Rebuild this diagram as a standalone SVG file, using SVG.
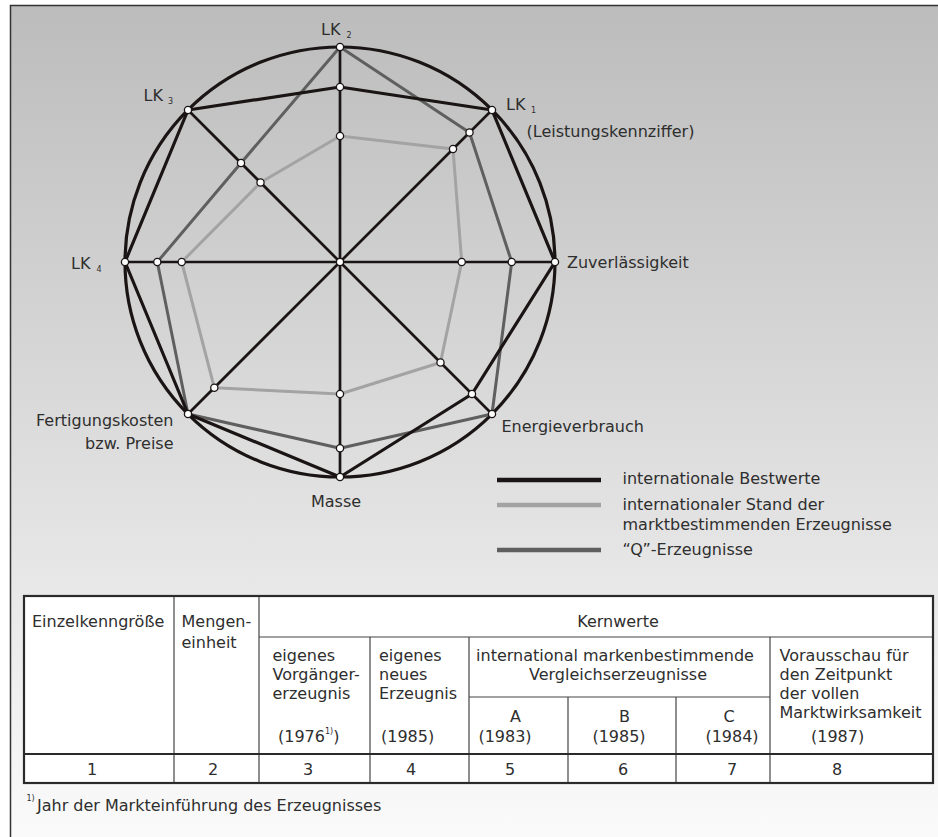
<svg xmlns="http://www.w3.org/2000/svg" width="938" height="837" viewBox="0 0 938 837">
<defs>
<linearGradient id="bg" x1="0" y1="0" x2="0" y2="1">
<stop offset="0" stop-color="#bcbcbc"/>
<stop offset="1" stop-color="#fbfbfb"/>
</linearGradient>
<style>
.ax{stroke:#1a1414;stroke-width:2.7;fill:none}
.bk{stroke:#1a1414;stroke-width:3.2;fill:none;stroke-linejoin:round}
.dg{stroke:#5f5f5f;stroke-width:3;fill:none;stroke-linejoin:round}
.lg{stroke:#a3a3a3;stroke-width:3;fill:none;stroke-linejoin:round}
.pt{fill:#fff;stroke:#1a1414;stroke-width:1.3}
text{font-family:"DejaVu Sans","Liberation Sans",sans-serif;font-size:16px;fill:#2e2e2e}
.sub{font-size:8px}
.sup{font-size:8px}
.tb{stroke:#2a2a2a;stroke-width:2.2;fill:none}
.tl{stroke:#444;stroke-width:1.2;fill:none}
.mid{text-anchor:middle}
</style>
</defs>
<rect x="0" y="0" width="938" height="837" fill="#ffffff"/>
<rect x="10.5" y="5.5" width="940" height="840" fill="url(#bg)" stroke="#333" stroke-width="1.5"/>

<g id="chart">
<circle cx="340" cy="262" r="215" class="bk"/>
<g id="spokes">
<line x1="340" y1="47" x2="340" y2="477" class="ax"/>
<line x1="125" y1="262" x2="555" y2="262" class="ax" stroke-width="3.2"/>
<line x1="188" y1="110" x2="492" y2="414" class="ax"/>
<line x1="492" y1="110" x2="188" y2="414" class="ax"/>
</g>
<polygon id="stand" class="lg" points="340,136 453,149 461.7,262 440.5,362.5 340,394 214.3,387.7 181.7,262 260.5,182.5"/>
<polygon id="q-erzeugnisse" class="dg" points="340,47 469.5,132.5 511.7,262 492,414 340,448.3 188,414 157.3,262 241,163"/>
<polygon id="bestwerte" class="bk" points="340,87 492,110 555,262 472,394 340,477 188,414 125,262 188,110"/>
<g id="points">
<circle class="pt" cx="340" cy="262" r="3.6"/>
<circle class="pt" cx="340" cy="47" r="3.6"/>
<circle class="pt" cx="340" cy="87" r="3.6"/>
<circle class="pt" cx="340" cy="136" r="3.6"/>
<circle class="pt" cx="492" cy="110" r="3.6"/>
<circle class="pt" cx="469.5" cy="132.5" r="3.6"/>
<circle class="pt" cx="453" cy="149" r="3.6"/>
<circle class="pt" cx="555" cy="262" r="3.6"/>
<circle class="pt" cx="511.7" cy="262" r="3.6"/>
<circle class="pt" cx="461.7" cy="262" r="3.6"/>
<circle class="pt" cx="492" cy="414" r="3.6"/>
<circle class="pt" cx="472" cy="394" r="3.6"/>
<circle class="pt" cx="440.5" cy="362.5" r="3.6"/>
<circle class="pt" cx="340" cy="477" r="3.6"/>
<circle class="pt" cx="340" cy="448.3" r="3.6"/>
<circle class="pt" cx="340" cy="394" r="3.6"/>
<circle class="pt" cx="188" cy="414" r="3.6"/>
<circle class="pt" cx="214.3" cy="387.7" r="3.6"/>
<circle class="pt" cx="125" cy="262" r="3.6"/>
<circle class="pt" cx="157.3" cy="262" r="3.6"/>
<circle class="pt" cx="181.7" cy="262" r="3.6"/>
<circle class="pt" cx="188" cy="110" r="3.6"/>
<circle class="pt" cx="241" cy="163" r="3.6"/>
<circle class="pt" cx="260.5" cy="182.5" r="3.6"/>
</g>
</g>

<g id="label-lk2"><text x="321" y="35" font-size="17">LK<tspan class="sub" x="346.5" y="38">2</tspan></text></g>
<g id="label-lk3"><text x="143.5" y="101" font-size="17">LK<tspan class="sub" x="168" y="104">3</tspan></text></g>
<g id="label-lk1"><text x="506" y="110" font-size="17">LK<tspan class="sub" x="531" y="113">1</tspan></text>
<text x="526.5" y="137">(Leistungskennziffer)</text></g>
<g id="label-lk4"><text x="71" y="269" font-size="17">LK<tspan class="sub" x="96.5" y="272">4</tspan></text></g>
<g id="label-zuv"><text x="567" y="268">Zuverlässigkeit</text></g>
<g id="label-energie"><text x="501.5" y="432">Energieverbrauch</text></g>
<g id="label-masse"><text x="336" y="506.5" class="mid">Masse</text></g>
<g id="label-fertigung"><text x="173.5" y="425.5" text-anchor="end">Fertigungskosten</text>
<text x="173.5" y="449" text-anchor="end">bzw. Preise</text></g>

<g id="legend">
<line x1="497" y1="480" x2="601" y2="480" stroke="#1a1414" stroke-width="4.5"/>
<line x1="497" y1="505" x2="601" y2="505" stroke="#a3a3a3" stroke-width="4.5"/>
<line x1="497" y1="550" x2="601" y2="550" stroke="#5f5f5f" stroke-width="4.5"/>
<text x="622.5" y="484">internationale Bestwerte</text>
<text x="622.5" y="510">internationaler Stand der</text>
<text x="622.5" y="530">marktbestimmenden Erzeugnisse</text>
<text x="622.5" y="555">“Q”-Erzeugnisse</text>
</g>

<g id="table">
<rect x="24" y="596" width="909" height="187" fill="#ffffff"/>
<g id="table-lines">
<line class="tl" x1="174" y1="596" x2="174" y2="783"/>
<line class="tl" x1="259" y1="596" x2="259" y2="783"/>
<line class="tl" x1="259" y1="637" x2="933" y2="637"/>
<line class="tl" x1="370" y1="637" x2="370" y2="783"/>
<line class="tl" x1="469" y1="637" x2="469" y2="783"/>
<line class="tl" x1="770" y1="637" x2="770" y2="783"/>
<line class="tl" x1="469" y1="697" x2="770" y2="697"/>
<line class="tl" x1="568" y1="697" x2="568" y2="783"/>
<line class="tl" x1="676" y1="697" x2="676" y2="783"/>
<line class="tb" x1="24" y1="754" x2="933" y2="754" stroke-width="2.6"/>
<rect class="tb" x="24" y="596" width="909" height="187"/>
</g>
<g id="table-head">
<text x="32" y="627">Einzelkenngröße</text>
<text x="181.5" y="627">Mengen-</text>
<text x="181.5" y="648">einheit</text>
<text x="618" y="627" class="mid">Kernwerte</text>
<text x="272.5" y="661">eigenes</text>
<text x="272.5" y="680">Vorgänger-</text>
<text x="272.5" y="699">erzeugnis</text>
<text x="278" y="742">(1976<tspan class="sup" dy="-8">1)</tspan><tspan dy="8">)</tspan></text>
<text x="379" y="661">eigenes</text>
<text x="379" y="680">neues</text>
<text x="379" y="699">Erzeugnis</text>
<text x="381" y="742">(1985)</text>
<text x="615" y="661" class="mid">international markenbestimmende</text>
<text x="618" y="680" class="mid">Vergleichserzeugnisse</text>
<text x="515.5" y="722" class="mid">A</text>
<text x="505" y="742" class="mid">(1983)</text>
<text x="624.5" y="722" class="mid">B</text>
<text x="619" y="742" class="mid">(1985)</text>
<text x="729" y="722" class="mid">C</text>
<text x="732" y="742" class="mid">(1984)</text>
<text x="779.5" y="661">Vorausschau für</text>
<text x="779.5" y="680">den Zeitpunkt</text>
<text x="779.5" y="699">der vollen</text>
<text x="779.5" y="718">Marktwirksamkeit</text>
<text x="811" y="742">(1987)</text>
</g>
<g id="table-nums">
<text x="92" y="775" class="mid">1</text>
<text x="213" y="775" class="mid">2</text>
<text x="308" y="775" class="mid">3</text>
<text x="411" y="775" class="mid">4</text>
<text x="510" y="775" class="mid">5</text>
<text x="623" y="775" class="mid">6</text>
<text x="732" y="775" class="mid">7</text>
<text x="837" y="775" class="mid">8</text>
</g>
</g>

<g id="footnote"><text x="26.5" y="801" class="sup">1)</text><text x="37" y="811">Jahr der Markteinführung des Erzeugnisses</text></g>
</svg>
